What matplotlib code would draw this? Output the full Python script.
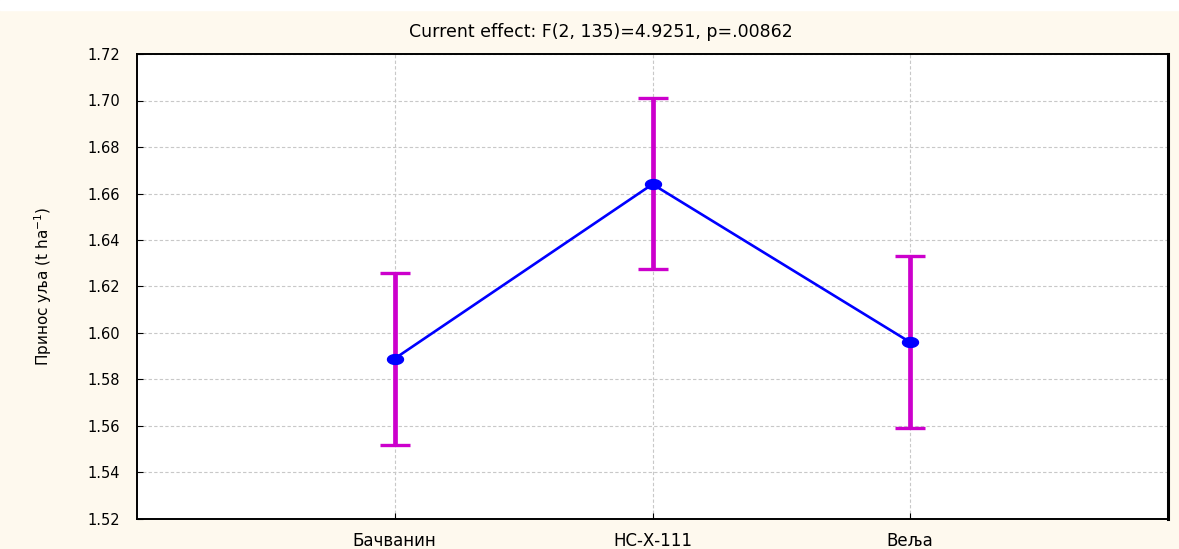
import matplotlib.pyplot as plt
from matplotlib.path import Path
import numpy as np

# Подаци
hibridi = ['Бачванин', 'НС-Х-111', 'Веља']
prinos = [1.589, 1.664, 1.596]
gornja = [1.626, 1.701, 1.633]
donja = [1.552, 1.6275, 1.559]
y_ticks = [1.52, 1.54, 1.56, 1.58, 1.60, 1.62, 1.64, 1.66, 1.68, 1.70, 1.72]

plt.rcParams['font.family'] = ['DejaVu Sans']

fig = plt.figure(figsize=(11.79, 5.49), dpi=100)
fig.patch.set_facecolor('#FEF9EE')
# bela traka na vrhu (odsečeni naslov)
fig.add_artist(plt.Rectangle((0, 1 - 10 / 549), 1, 10 / 549,
                             transform=fig.transFigure, color='white', zorder=0))

ax = fig.add_axes([137 / 1179, 1 - 519 / 549, (1168 - 137) / 1179, (519 - 54) / 549])
ax.set_facecolor('white')

x = np.arange(len(hibridi))
sr = np.array(prinos)
err = [sr - np.array(donja), np.array(gornja) - sr]

# elipsasti marker (razvučen horizontalno kao u originalu)
t = np.linspace(0, 2 * np.pi, 40)
elipsa = Path(np.column_stack([np.cos(t), 0.62 * np.sin(t)]), closed=True)

ax.errorbar(x, sr, yerr=err, fmt='none', ecolor='#CC00CC', elinewidth=3.4,
            capsize=11, capthick=2.4, zorder=3)
ax.plot(x, sr, color='#0000FF', linewidth=1.9, marker=elipsa, markersize=11.5,
        zorder=4)

ax.set_xlim(-1, 3)
ax.set_ylim(1.52, 1.72)
ax.set_xticks(x)
ax.set_xticklabels(hibridi, fontsize=12)
ax.set_yticks(y_ticks)
ax.set_yticklabels([f'{v:.2f}' for v in y_ticks], fontsize=10.5)
ax.tick_params(axis='both', direction='in', length=4, color='black')
ax.tick_params(axis='y', pad=12)
ax.tick_params(axis='x', pad=9)

ax.grid(True, color='#C8C8C8', linestyle='--', linewidth=0.8, dashes=(3, 2))
ax.set_axisbelow(True)
for s in ax.spines.values():
    s.set_linewidth(1.4)
    s.set_color('black')
ax.spines['right'].set_linewidth(2.2)

ax.set_ylabel('Принос уља (t ha$^{-1}$)', fontsize=11, labelpad=24)

fig.text(601 / 1179, 1 - 32 / 549, 'Current effect: F(2, 135)=4.9251, p=.00862',
         ha='center', va='center', fontsize=12.5)

plt.savefig('out.png', dpi=100, facecolor=fig.get_facecolor())
